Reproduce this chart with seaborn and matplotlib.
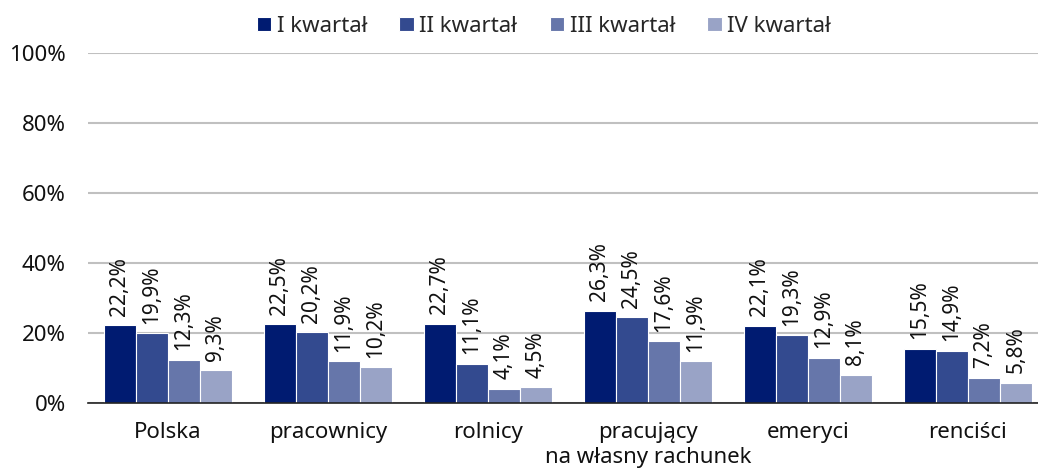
import matplotlib
matplotlib.use("Agg")
import matplotlib.pyplot as plt
import seaborn as sns
import pandas as pd
import numpy as np

categories = ["Polska", "pracownicy", "rolnicy", "pracujący\nna własny rachunek", "emeryci", "renciści"]
quarters = ["I kwartał", "II kwartał", "III kwartał", "IV kwartał"]
q1 = [22.2, 22.5, 22.7, 26.3, 22.1, 15.5]
q2 = [19.9, 20.2, 11.1, 24.5, 19.3, 14.9]
q3 = [12.3, 11.9, 4.1, 17.6, 12.9, 7.2]
q4 = [9.3, 10.2, 4.5, 11.9, 8.1, 5.8]
colors = ["#001B71", "#334A8F", "#6676AA", "#99A3C6"]

rows = []
for q, vals in zip(quarters, [q1, q2, q3, q4]):
    for c, v in zip(categories, vals):
        rows.append({"kategoria": c, "kwartał": q, "wartość": v})
df = pd.DataFrame(rows)

sns.set_style("white")
plt.rcParams["font.family"] = ["Noto Sans", "DejaVu Sans"]

fig = plt.figure(figsize=(10.38, 4.73), dpi=100)
ax = fig.add_axes([88 / 1038, 70 / 473, 960 / 1038, 350 / 473])

sns.barplot(data=df, x="kategoria", y="wartość", hue="kwartał", palette=colors,
            width=0.8, edgecolor="white", linewidth=0.8, saturation=1, ax=ax)

for cont in ax.containers:
    labels = [f"{v:.1f}%".replace(".", ",") for v in cont.datavalues]
    ax.bar_label(cont, labels=labels, rotation=90, padding=7, fontsize=15, color="#111111")

ax.set_ylim(0, 100)
ax.set_xlim(-0.5, len(categories) - 0.5)
ax.set_yticks(range(0, 101, 20))
ax.set_yticklabels([f"{t}%" for t in range(0, 101, 20)], fontsize=16, color="#111111")
ax.yaxis.grid(True, color="#C0C0C0", linewidth=1.5)
ax.set_axisbelow(True)
ax.tick_params(axis="y", length=0, pad=16)
ax.tick_params(axis="x", which="major", length=0, labelsize=16, labelcolor="#111111", pad=14)
ax.set_xticks(np.arange(-0.5, len(categories), 1), minor=True)
ax.tick_params(axis="x", which="minor", length=7, width=1.2, color="#222222")
ax.set_xlabel("")
ax.set_ylabel("")
for s in ["left", "right", "top"]:
    ax.spines[s].set_visible(False)
ax.spines["bottom"].set_color("#222222")
ax.spines["bottom"].set_linewidth(1.2)

ax.legend(loc="upper center", bbox_to_anchor=(456 / 960, 1 + 46 / 350), ncol=4, frameon=False,
          fontsize=16, handlelength=0.65, handleheight=0.65, handletextpad=0.25,
          columnspacing=1.45, borderaxespad=0)

fig.savefig("out.png", dpi=100)
